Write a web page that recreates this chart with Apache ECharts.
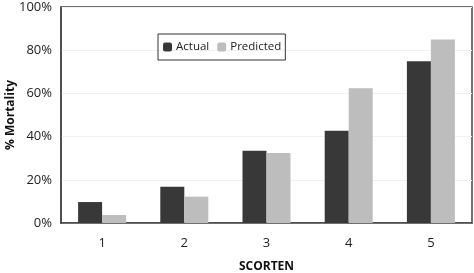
<!DOCTYPE html>
<html>
<head>
<meta charset="utf-8">
<script src="https://cdn.jsdelivr.net/npm/echarts@6/dist/echarts.min.js"></script>
<style>
  html, body { margin: 0; padding: 0; background: #fff; }
  #chart { width: 474px; height: 273px; }
</style>
</head>
<body>
<div id="chart"></div>
<script>
const categories = ['1', '2', '3', '4', '5'];
const actual = [9.7, 16.8, 33.4, 42.7, 74.9];
const predicted = [3.7, 12.2, 32.4, 62.4, 85.0];

const chart = echarts.init(document.getElementById('chart'), null, { renderer: 'canvas' });
const font = 'Open Sans';

chart.setOption({
  backgroundColor: '#fff',
  animation: false,
  legend: {
    data: ['Actual', 'Predicted'],
    left: 158,
    top: 34,
    padding: [7, 4, 7, 5],
    itemWidth: 9,
    itemHeight: 9,
    itemGap: 8,
    borderColor: '#333',
    borderWidth: 1,
    textStyle: { fontFamily: font, fontSize: 11.5, color: '#222', padding: [0, 0, 0, -1] }
  },
  grid: {
    left: 61, right: 2, top: 7, bottom: 50,
    outerBoundsMode: 'none',
    show: true, borderColor: '#444', borderWidth: 1.5
  },
  xAxis: {
    type: 'category',
    data: categories,
    name: 'SCORTEN',
    nameLocation: 'middle',
    nameGap: 38,
    nameMoveOverlap: false,
    nameTextStyle: { fontFamily: font, fontSize: 12, fontWeight: 'bold', color: '#111' },
    axisLine: { lineStyle: { color: '#444', width: 1.5 } },
    axisTick: { show: false },
    axisLabel: { fontFamily: font, fontSize: 13, color: '#222', margin: 14 }
  },
  yAxis: {
    type: 'value',
    min: 0,
    max: 100,
    interval: 20,
    name: '% Mortality',
    nameLocation: 'middle',
    nameGap: 44,
    nameMoveOverlap: false,
    nameTextStyle: { fontFamily: font, fontSize: 12, fontWeight: 'bold', color: '#111' },
    axisLine: { show: true, lineStyle: { color: '#444', width: 1.5 } },
    axisTick: { show: false },
    axisLabel: { fontFamily: font, fontSize: 13, color: '#222', margin: 9, formatter: '{value}%' },
    splitLine: { lineStyle: { color: '#f0f0f0' } }
  },
  series: [
    {
      name: 'Actual',
      type: 'bar',
      data: actual,
      barWidth: 24,
      barGap: '0%',
      itemStyle: { color: '#383838' }
    },
    {
      name: 'Predicted',
      type: 'bar',
      data: predicted,
      barWidth: 24,
      itemStyle: { color: '#bdbdbd' }
    }
  ]
});
</script>
</body>
</html>
